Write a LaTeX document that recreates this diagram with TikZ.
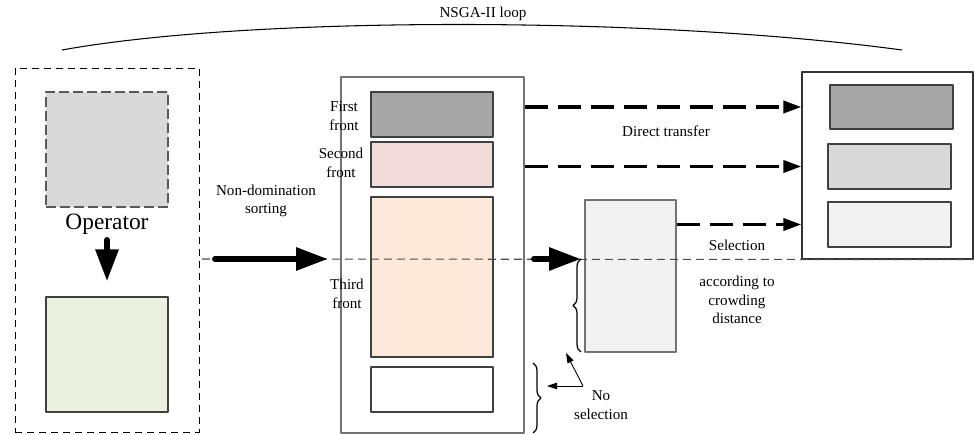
\documentclass[tikz,border=0pt]{standalone}
\usepackage{fontspec}
\setmainfont{Liberation Serif}
\usetikzlibrary{arrows.meta,fit,decorations.pathreplacing}
\definecolor{frontone}{HTML}{A6A6A6}
\definecolor{fronttwo}{HTML}{F2DCDB}
\definecolor{frontthree}{HTML}{FDE9D9}
\definecolor{oldpop}{HTML}{D9D9D9}
\definecolor{newpop}{HTML}{EBF1DE}
\definecolor{palegray}{HTML}{F2F2F2}
\begin{document}
\begin{tikzpicture}[x=0.02cm, y=-0.02cm, font=\fontsize{8.6}{10.5}\selectfont, line join=round,
	container/.style={draw=black!55, line width=0.7pt, inner sep=0pt},
	front/.style={draw=black!75, line width=0.7pt, inner sep=0pt},
	label/.style={align=center, inner sep=0pt},
	bigarrow/.style={line width=0.12cm, line cap=round, -{Triangle[length=0.64cm,width=0.44cm]}},
	transfer/.style={line width=2pt, dash pattern=on 0.46cm off 0.2cm, -{Triangle[length=0.36cm,width=0.24cm]}},
	cutline/.style={draw=black!70, line width=0.6pt, dash pattern=on 0.16cm off 0.1cm},
	pointer/.style={line width=0.5pt, -{Triangle[length=0.2cm,width=0.13cm]}},
	bracket/.style={line width=0.7pt, decorate, decoration={brace, amplitude=0.16cm}}]
	\useasboundingbox (0,0) rectangle (975,435);
	
	% loop
	\draw[line width=0.6pt] (62,50) .. controls (250,16) and (650,16) .. (902,50);
	\node[label] (loop) at (483,14) {NSGA-II loop};
	
	% operator
	\node[draw, line width=0.5pt, dash pattern=on 0.15cm off 0.09cm, inner sep=0pt, fit={(15,68) (199,432)}] (opbox) {};
	\node[draw=black!65, fill=oldpop, line width=1pt, dash pattern=on 0.2cm off 0.08cm, inner sep=0pt, fit={(46,92) (168,207)}] (parent) {};
	\node[front, fill=newpop, fit={(46,297) (168,412)}] (child) {};
	\node[label, font=\fontsize{13.3}{16}\selectfont] (op) at (107,224) {Operator};
	\draw[bigarrow, shorten <=0.32cm, shorten >=0.3cm] (op.center) -- (child.north);
	
	% sorted population
	\node[container, fit={(341,77) (524,433)}] (pop) {};
	\node[front, fill=frontone, fit={(371,92) (493,137)}] (f1) {};
	\node[front, fill=fronttwo, fit={(371,142) (493,187)}] (f2) {};
	\node[front, fill=frontthree, fit={(371,197) (493,357)}] (f3) {};
	\node[front, fill=white, fit={(371,367) (493,412)}] (f4) {};
	\node[label] (f1lab) at (344,116) {First\\front};
	\node[label] (f2lab) at (341,163) {Second\\front};
	\node[label] (f3lab) at (347,294) {Third\\front};
	\node[label] (sortlab) at (266,201) {Non-domination\\sorting};
	
	% next population
	\node[container, draw=black!80, fit={(802,72) (973,259)}] (out) {};
	\node[front, fill=frontone, fit={(830,85) (953,129)}] (r1) {};
	\node[front, fill=oldpop, fit={(828,144) (951,189)}] (r2) {};
	\node[front, fill=palegray, fit={(828,202) (951,247)}] (r3) {};
	\node[container, fill=palegray, fit={(585,200) (676,352)}] (sel) {};
	
	% cut
	\coordinate (cutA) at (202,259);
	\draw[cutline] (cutA) -- (out.south east);
	\coordinate (sortA) at (215,259);
	\coordinate (sortB) at (328,259);
	\draw[bigarrow] (sortA) -- (sortB);
	\coordinate (crowdA) at (534,259);
	\coordinate (crowdB) at (581,259);
	\draw[bigarrow] (crowdA) -- (crowdB);
	
	\draw[transfer] (pop.east |- r1) -- (out.west |- r1);
	\draw[transfer] (pop.east |- r2) -- (out.west |- r2);
	\draw[transfer] (sel.east |- r3) -- (out.west |- r3);
	\node[label] (dlab) at (666,131) {Direct transfer};
	\node[label] (slab) at (737,245) {Selection};
	\node[label] (clab) at (737,300) {according to\\crowding\\distance};
	
	% braces
	\coordinate (b1s) at (581,352);
	\coordinate (b1e) at (581,259);
	\draw[bracket] (b1s) -- (b1e);
	\coordinate (b2s) at (533,363);
	\coordinate (b2e) at (533,433);
	\draw[bracket] (b2s) -- (b2e);
	\node[label] (nolab) at (601,405) {No\\selection};
	\coordinate (nsel) at (583,386);
	\coordinate (nselA) at (566,353);
	\coordinate (nselB) at (547,386);
	\draw[pointer] (nsel) -- (nselA);
	\draw[pointer] (nsel) -- (nselB);
\end{tikzpicture}
\end{document}
